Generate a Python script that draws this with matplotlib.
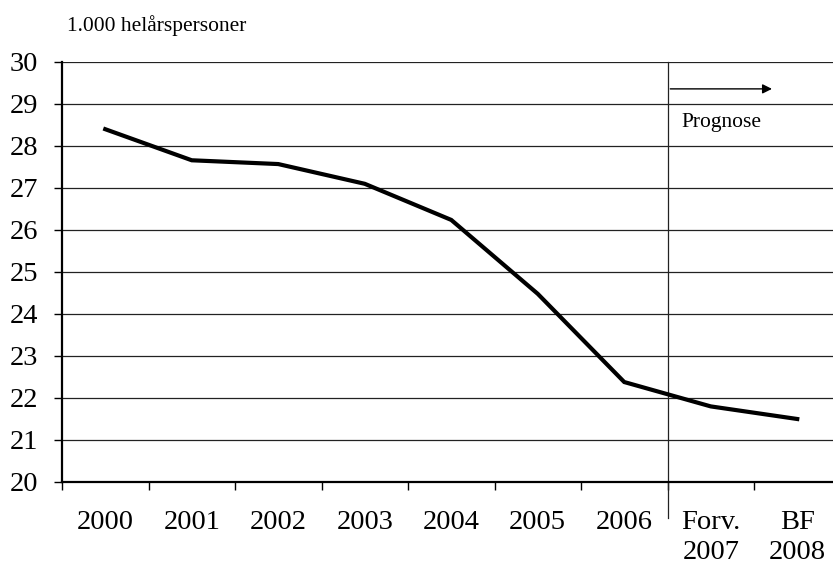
import numpy as np
import matplotlib
matplotlib.use('Agg')
import matplotlib.pyplot as plt

plt.rcParams['font.family'] = ['Liberation Serif', 'DejaVu Serif']

labels = ['2000', '2001', '2002', '2003', '2004', '2005', '2006', 'Forv.\n2007', 'BF\n2008']
values = [28.40, 27.66, 27.57, 27.10, 26.24, 24.48, 22.38, 21.80, 21.50]

fig = plt.figure(figsize=(8.33, 5.67), dpi=100)
W, H = 833, 567
cat_w = 86.5
ax = fig.add_axes([62 / W, (H - 482) / H, (W - 62) / W, 420 / H])

x = np.arange(len(values)) + 0.5
ax.set_xlim(0, (W - 62) / cat_w)
ax.set_ylim(20, 30)

# gridlines
for v in range(21, 31):
    ax.axhline(v, color='#222222', lw=0.9, zorder=1)

ax.plot(x, values, color='black', lw=3.0, solid_joinstyle='miter', zorder=3)

# divider between actual and prognosis
ax.plot([7, 7], [19.14, 30], color='#222222', lw=0.9, clip_on=False, zorder=2)
ax.annotate('', xy=(8.24, 29.36), xytext=(7, 29.36),
            arrowprops=dict(arrowstyle='-|>', color='black', lw=1.0, mutation_scale=14))
ax.text(7.16, 28.55, 'Prognose', fontsize=15.5, va='center', ha='left')

for s in ['top', 'right']:
    ax.spines[s].set_visible(False)
ax.spines['left'].set_linewidth(1.6)
ax.spines['bottom'].set_linewidth(1.6)

ax.set_yticks(range(20, 31))
ax.tick_params(axis='y', direction='out', length=6, width=1, labelsize=20.5, pad=11)

ax.set_xticks(range(0, 9))
ax.set_xticklabels([])
ax.set_xticks(x, minor=True)
ax.set_xticklabels(labels, minor=True, fontsize=20.5, va='top', linespacing=1.25)
ax.tick_params(axis='x', which='major', direction='out', length=6, width=1)
ax.tick_params(axis='x', which='minor', length=0, pad=20)

fig.text(67 / W, 1 - 26 / H, '1.000 helårspersoner', fontsize=15.5, va='center', ha='left')

fig.savefig('out.png', dpi=100)
